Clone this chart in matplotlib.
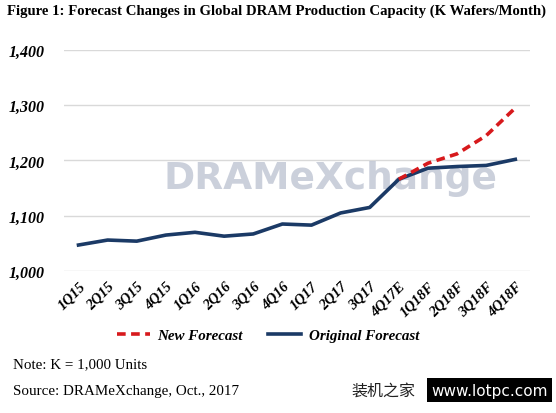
import matplotlib.pyplot as plt
import numpy as np

quarters = ['1Q15', '2Q15', '3Q15', '4Q15', '1Q16', '2Q16', '3Q16', '4Q16',
            '1Q17', '2Q17', '3Q17', '4Q17E', '1Q18F', '2Q18F', '3Q18F', '4Q18F']
original = [1047, 1056, 1054, 1065, 1070, 1063, 1067, 1085,
            1083, 1105, 1115, 1166, 1186, 1189, 1191, 1202]
new_forecast = [None] * 11 + [1166, 1195, 1212, 1245, 1295]
y_ticks = [1000, 1100, 1200, 1300, 1400]

serif = 'Liberation Serif'
navy = '#1B3A66'
red = '#D7191C'

fig = plt.figure(figsize=(5.56, 4.14), dpi=100)
ax = fig.add_axes([0.115, 0.343, 0.838, 0.534])

x = np.arange(len(quarters))
new_y = np.array([np.nan if v is None else v for v in new_forecast], dtype=float)

ax.plot(x, new_y, color=red, lw=2.6, ls=(0, (2.4, 1.5)), label='New Forecast', zorder=4)
ax.plot(x, original, color=navy, lw=2.6, label='Original Forecast', zorder=3)

ax.set_xlim(-0.5, len(quarters) - 0.5)
ax.set_ylim(1000, 1400)
ax.set_yticks(y_ticks)
ax.set_yticklabels([f'{v:,}' for v in y_ticks], fontfamily=serif, fontweight='bold',
                   fontstyle='italic', fontsize=11.5)
ax.set_xticks(x)
ax.set_xticklabels(quarters, rotation=45, ha='right', rotation_mode='anchor',
                   fontfamily=serif, fontweight='bold', fontstyle='italic', fontsize=10.5)
ax.tick_params(length=0)
ax.tick_params(axis='y', pad=14)
ax.tick_params(axis='x', pad=6)
ax.grid(axis='y', color='#D9D9D9', lw=1)
ax.set_axisbelow(True)
for s in ax.spines.values():
    s.set_visible(False)

# watermark
ax.text(0.572, 0.42, 'DRAMeXchange', transform=ax.transAxes, ha='center', va='center',
        fontsize=27, fontweight='bold', color='#A9B1C4', alpha=0.6, zorder=1,
        fontfamily='DejaVu Sans')

leg = ax.legend(loc='upper center', bbox_to_anchor=(0.438, -0.2), ncol=2, frameon=False,
                prop={'family': serif, 'weight': 'bold', 'style': 'italic', 'size': 10.8},
                handlelength=2.2, columnspacing=1.7, handletextpad=0.5)

fig.text(0.012, 0.99, 'Figure 1: Forecast Changes in Global DRAM Production Capacity (K Wafers/Month)',
         fontfamily=serif, fontweight='bold', fontsize=10.6, va='top', ha='left')
fig.text(0.023, 0.118, 'Note: K = 1,000 Units', fontfamily=serif, fontsize=10.8, va='center')
fig.text(0.023, 0.055, 'Source: DRAMeXchange, Oct., 2017', fontfamily=serif, fontsize=10.8, va='center')

fig.text(0.632, 0.055, '装机之家', fontfamily=['Noto Sans CJK SC', 'DejaVu Sans'],
         fontsize=11.5, va='center', color='#222222')
fig.text(0.985, 0.055, 'www.lotpc.com', fontfamily='DejaVu Sans', fontsize=11, va='center',
         ha='right', color='white',
         bbox=dict(facecolor='black', edgecolor='none', boxstyle='square,pad=0.3'))

fig.savefig('out.png', dpi=100)
